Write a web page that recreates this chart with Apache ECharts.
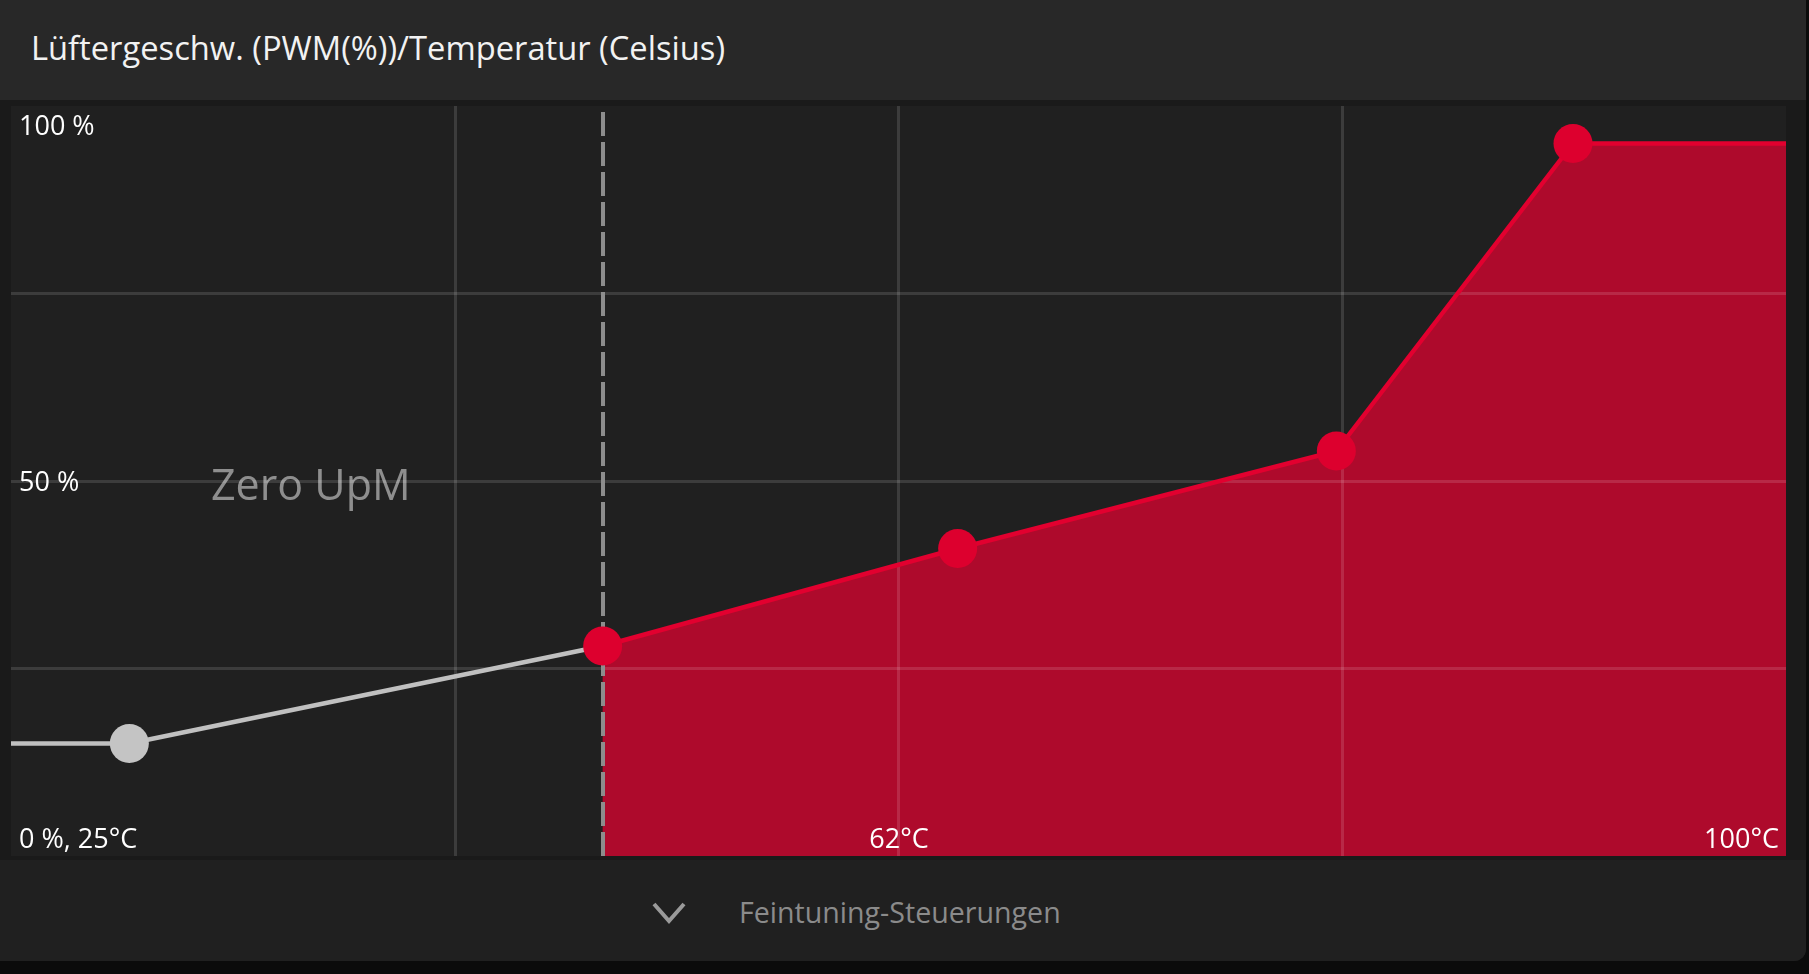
<!DOCTYPE html>
<html>
<head>
<meta charset="utf-8">
<script src="https://cdn.jsdelivr.net/npm/echarts@6/dist/echarts.min.js"></script>
<style>
* { margin: 0; padding: 0; }
body { background: #0b0b0b; width: 1809px; height: 974px; overflow: hidden; font-family: "Open Sans", sans-serif; }
.panel { position: absolute; left: 0; top: 0; width: 1806px; height: 961px; background: #1a1a1a; border-bottom-right-radius: 12px; overflow: hidden; }
.head { position: absolute; left: 0; top: 0; width: 1806px; height: 100px; background: #282828; }
.head span { position: absolute; left: 31px; top: 0; font-size: 32.7px; line-height: 96px; color: #f2f2f2; white-space: nowrap; }
#chart { position: absolute; left: 11px; top: 106px; width: 1775px; height: 750px; }
.foot { position: absolute; left: 0; top: 860px; width: 1806px; height: 101px; background: #202020; }
.foot svg { position: absolute; left: 650px; top: 40px; }
.foot span { position: absolute; left: 739px; top: 0; font-size: 28.6px; line-height: 104px; color: #8b8b8b; white-space: nowrap; }
</style>
</head>
<body>
<div class="panel">
  <div class="head"><span>Lüftergeschw. (PWM(%))/Temperatur (Celsius)</span></div>
  <div id="chart"></div>
  <div class="foot">
    <svg width="38" height="26"><polyline points="4,4 19,21 34,4" fill="none" stroke="#9a9a9a" stroke-width="4"/></svg>
    <span>Feintuning-Steuerungen</span>
  </div>
</div>
<script>
// Achsen: Temperatur (°C) und Lüftergeschwindigkeit (PWM %)
const tempMin = 25;
const tempMax = 100;
const tempTicksLabeled = [25, 62.5, 100];
const tempTickTexts = ['0 %, 25°C', '62°C', '100°C'];
const pwmTicksLabeled = [50, 100];
const pwmTickTexts = ['50 %', '100 %'];

// Zero-UpM-Bereich (grau) und aktive Lüfterkurve (rot)
const zeroRpmLimit = 50;
const zeroRpmTemps = [25, 30, 50];
const zeroRpmPwm = [15, 15, 28];
const curveTemps = [50, 65, 81, 91, 100];
const curvePwm = [28, 41, 54, 95, 95];

const font = 'Open Sans';
const gridColor = 'rgba(255,255,255,0.13)';

const grayData = zeroRpmTemps.map((t, i) => ({
  value: [t, zeroRpmPwm[i]],
  symbol: (i === 0 || i === zeroRpmTemps.length - 1) ? 'none' : 'circle'
}));
const redData = curveTemps.map((t, i) => ({
  value: [t, curvePwm[i]],
  symbol: i === curveTemps.length - 1 ? 'none' : 'circle'
}));

const chart = echarts.init(document.getElementById('chart'));
chart.setOption({
  backgroundColor: '#202020',
  animation: false,
  grid: { left: 0, right: 0, top: 0, bottom: 0 },
  xAxis: {
    type: 'value',
    min: tempMin,
    max: tempMax,
    interval: 18.75,
    z: 2,
    axisLine: { show: false },
    axisTick: { show: false },
    splitLine: { show: true, showMinLine: false, showMaxLine: false, lineStyle: { color: gridColor, width: 3 } },
    axisLabel: {
      inside: true,
      margin: 2,
      color: '#ffffff',
      fontSize: 27,
      fontFamily: font,
      showMinLabel: true,
      showMaxLabel: true,
      alignMinLabel: 'left',
      alignMaxLabel: 'right',
      padding: [0, 7, 0, 8],
      formatter: v => {
        const i = tempTicksLabeled.indexOf(v);
        return i < 0 ? '' : tempTickTexts[i];
      }
    }
  },
  yAxis: {
    type: 'value',
    min: 0,
    max: 100,
    interval: 25,
    z: 2,
    axisLine: { show: false },
    axisTick: { show: false },
    splitLine: { show: true, showMinLine: false, showMaxLine: false, lineStyle: { color: gridColor, width: 3 } },
    axisLabel: {
      inside: true,
      margin: 8,
      color: '#ffffff',
      fontSize: 27,
      fontFamily: font,
      formatter: v => {
        const i = pwmTicksLabeled.indexOf(v);
        if (i < 0) return '';
        return '{' + (v === 100 ? 'top' : 'mid') + '|' + pwmTickTexts[i] + '}';
      },
      rich: {
        top: { padding: [42, 0, 0, 0], color: '#ffffff', fontSize: 27, fontFamily: font },
        mid: { padding: [5, 0, 0, 0], color: '#ffffff', fontSize: 27, fontFamily: font }
      }
    }
  },
  series: [
    {
      // Fläche unter der aktiven Kurve
      type: 'line',
      z: 1,
      data: curveTemps.map((t, i) => [t, curvePwm[i]]),
      symbol: 'none',
      lineStyle: { width: 0 },
      areaStyle: { color: '#ae0a2c', opacity: 1 },
      silent: true
    },
    {
      type: 'line',
      z: 4,
      data: grayData,
      symbolSize: 39,
      lineStyle: { color: '#c0c0c0', width: 4.5 },
      itemStyle: { color: '#c4c4c4' },
      markArea: {
        silent: true,
        itemStyle: { color: 'rgba(0,0,0,0)' },
        label: {
          show: true,
          position: 'inside',
          offset: [4, 7],
          formatter: 'Zero UpM',
          color: '#8e8e8e',
          fontSize: 43,
          fontFamily: font
        },
        data: [[{ xAxis: tempMin }, { xAxis: zeroRpmLimit }]]
      }
    },
    {
      type: 'line',
      z: 4,
      data: redData,
      symbolSize: 39,
      lineStyle: { color: '#e2002f', width: 4.5 },
      itemStyle: { color: '#dd002e' },
      markLine: {
        silent: true,
        z: 3,
        symbol: ['none', 'none'],
        label: { show: false },
        lineStyle: { color: '#8d8d8d', width: 4, type: [24, 6] },
        data: [{ xAxis: zeroRpmLimit }]
      }
    }
  ]
});
</script>
</body>
</html>
